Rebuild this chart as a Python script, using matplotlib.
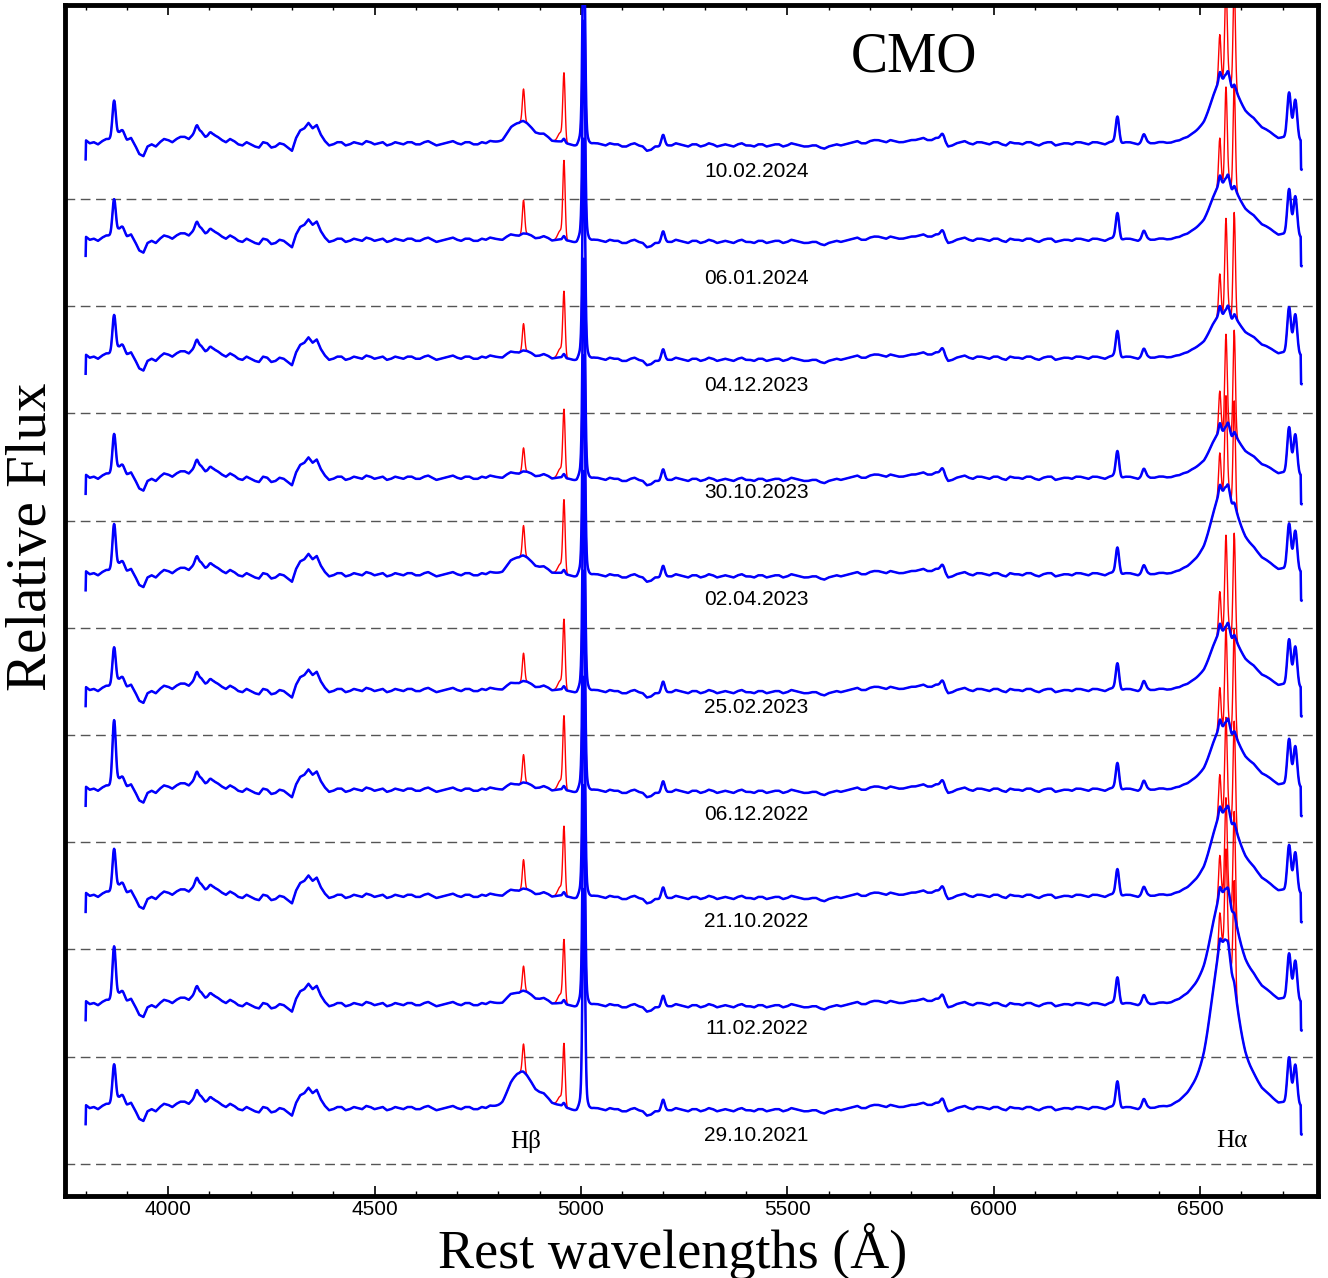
import numpy as np
import matplotlib.pyplot as plt
from matplotlib.ticker import MultipleLocator

# epochs, listed from the bottom spectrum to the top one
dates = ["29.10.2021", "11.02.2022", "21.10.2022", "06.12.2022", "25.02.2023",
         "02.04.2023", "30.10.2023", "04.12.2023", "06.01.2024", "10.02.2024"]

# continuum level of every spectrum above its own dashed line
base_level = [0.52, 0.49, 0.50, 0.49, 0.42, 0.50, 0.40, 0.52, 0.62, 0.52]

# continuum (units of 0.01): values at 3800, 3820, ... 6740 A
cont_start = 3800
cont_step = 20
cont_flux = [3, 1, 2, 4, 9, 3, -2, -12, -1, 1,
             3, 4, 6, 8, 11, 7, 6, 1, 2, -2,
             -1, -4, 0, -3, -1, -7, 12, 19, 17, 2,
             -1, 1, -1, 0, 2, -1, 1, -1, 0, 1,
             -1, 1, 0, -1, 1, 0, 1, -1, 1, 2,
             0, 1, 0, 1, 0, -1, 0, -1, -1, -2,
             0, -2, 0, -2, -1, -3, -1, -2, -7, -3,
             -1, -2, -1, -3, -1, -2, -1, -2, -2, -1,
             -2, -3, -1, -2, -1, -2, -1, -3, -2, -4,
             -3, -1, -1, 1, 0, 2, 3, 1, 2, 1,
             3, 4, 3, 5, 3, -2, 1, 0, 1, 0,
             1, -1, 1, 0, 1, -1, 0, 1, -1, 0,
             1, 0, 1, 0, 1, 1, 1, 0, 1, 0,
             1, 0, 1, 2, 3, 3, 3, 3, 3, 3,
             3, 3, 3, 3, 2, 3, 3, 2]
# values in between: 3810, 3830, ... 6730 A
cont_mid = [0, -1, 4, 5, 7, 5, -10, -3, -3, 4,
            1, 6, 4, 12, 6, 8, 3, 4, -1, 1,
            -3, 1, -4, 0, -4, 5, 14, 14, 8, -2,
            1, -2, 1, -1, 1, 0, -2, 1, -1, 1,
            -1, 2, -2, 0, 2, -1, 1, -1, 0, 1,
            -1, 2, -1, 1, -2, 1, -2, 0, -1, -3,
            -1, 0, -1, 0, -1, -3, 0, -3, -6, -3,
            -2, 0, -2, -1, -3, 0, -3, -1, -3, 0,
            -2, -1, -3, -1, -3, 0, -2, -3, -2, -5,
            -2, -2, 0, 2, 0, 3, 2, 3, 1, 2,
            3, 5, 3, 5, -3, 0, 2, -1, 1, -1,
            1, -2, 0, -1, 1, -2, 1, -2, 0, -1,
            1, -1, 1, -1, 2, 0, 1, -1, 2, 0,
            1, 0, 1, 2, 3, 2, 4, 3, 3, 4,
            2, 4, 2, 3, 1, 3, 3]
edge_first = -0.15   # first pixel of each spectrum
edge_last = -0.25    # drop at the red end
wave_end = 6746

# narrow lines present in every blue spectrum: centre, sigma, height
line_wave = [3889, 4069, 4102, 4959, 5199, 5876, 6300, 6364, 6716, 6731, 5007, 5007]
line_sig = [5, 4, 4, 3, 4, 4, 4, 4, 4.5, 4.5, 3.0, 8]
line_amp = [0.05, 0.05, 0.03, 0.04, 0.09, 0.05, 0.24, 0.07, 0.43, 0.37, 1.9, 0.15]

# residual spikes on top of broad H-alpha (blue)
resid_wave = [6548, 6556, 6568, 6577, 6584]
resid_amp = [0.07, -0.03, 0.05, -0.04, 0.03]

# per epoch values (bottom -> top)
neiii_amp = [0.36, 0.49, 0.39, 0.60, 0.35, 0.42, 0.36, 0.35, 0.33, 0.35]
hb_core = [0.24, 0.08, 0.04, 0.04, 0.05, 0.12, 0.03, 0.04, 0.03, 0.14]
hb_wing = [0.16, 0.06, 0.03, 0.03, 0.04, 0.08, 0.03, 0.03, 0.03, 0.10]
ha_core = [1.00, 0.62, 0.42, 0.32, 0.30, 0.45, 0.22, 0.20, 0.28, 0.34]
ha_wing = [0.56, 0.44, 0.38, 0.30, 0.28, 0.35, 0.24, 0.23, 0.28, 0.29]
ha_wing_c = [6565, 6570, 6575, 6580, 6580, 6575, 6580, 6580, 6580, 6580]

# narrow components drawn in red
n_hb = [0.26, 0.23, 0.27, 0.26, 0.26, 0.28, 0.22, 0.25, 0.31, 0.30]
n_4959 = [0.53, 0.54, 0.59, 0.63, 0.60, 0.63, 0.58, 0.56, 0.68, 0.59]
n_6548 = [0.25, 0.30, 0.30, 0.30, 0.30, 0.30, 0.30, 0.30, 0.35, 0.35]
n_6563 = [0.85, 0.85, 0.85, 0.88, 0.85, 0.85, 0.86, 0.85, 0.85, 0.85]
n_6583 = [0.95, 0.95, 0.95, 0.95, 0.95, 0.95, 0.95, 0.95, 0.95, 0.95]


def gauss(w, c, s, a):
    return a * np.exp(-0.5 * ((w - c) / s) ** 2)


# merge the two continuum lists into one 10 A sequence
n_mid = min(len(cont_mid), len(cont_flux) - 1)
knot_w, knot_f = [], []
for k in range(len(cont_flux)):
    knot_w.append(cont_start + cont_step * k)
    knot_f.append(cont_flux[k] / 100.0)
    if k < n_mid:
        knot_w.append(cont_start + cont_step * k + cont_step / 2)
        knot_f.append(cont_mid[k] / 100.0)

w = np.arange(cont_start, wave_end + 0.5, 1.0)
cont = np.interp(w, knot_w, knot_f)
cont[0] = edge_first
cont[-2:] = edge_last

common = np.zeros_like(w)
for c, s, a in zip(line_wave, line_sig, line_amp):
    common += gauss(w, c, s, a)
for c, a in zip(resid_wave, resid_amp):
    common += gauss(w, c, 2.5, a)

fig = plt.figure(figsize=(13.28, 12.78), dpi=100)
ax = fig.add_axes([65 / 1328, 82 / 1278, 1253 / 1328, 1191 / 1278])

for i in range(len(dates)):
    blue = cont + common + gauss(w, 3869, 4, neiii_amp[i])
    blue += gauss(w, 4848, 22, hb_core[i]) + gauss(w, 4885, 35, hb_wing[i])
    blue += gauss(w, 6557, 25, ha_core[i]) + gauss(w, ha_wing_c[i], 55, ha_wing[i])
    red = blue + gauss(w, 4861, 2.8, n_hb[i]) + gauss(w, 4959, 2.8, n_4959[i])
    red += gauss(w, 4950, 6, 0.08)
    red += gauss(w, 6548, 2.8, n_6548[i]) + gauss(w, 6563, 2.8, n_6563[i])
    red += gauss(w, 6583, 2.8, n_6583[i])
    off = i + base_level[i]
    ax.plot(w, red + off, color="red", lw=1.0, zorder=2)
    ax.plot(w, blue + off, color="blue", lw=1.8, zorder=3)
    ax.axhline(i, color="#555555", lw=1.0, dashes=(7, 4), zorder=1)
    ax.text(5425, i + 0.26, dates[i], ha="center", va="center",
            fontsize=15, family="Liberation Sans")

serif = "Liberation Serif"
ax.text(5808, 10.32, "CMO", ha="center", va="center", fontsize=40, family=serif)
ax.text(4866, 0.21, "H\u03b2", ha="center", va="center", fontsize=18, family=serif)
ax.text(6578, 0.21, "H\u03b1", ha="center", va="center", fontsize=18, family=serif)

ax.set_xlim(3750, 6786)
ax.set_ylim(-0.30, 10.81)
ax.set_yticks([])
ax.xaxis.set_major_locator(MultipleLocator(500))
ax.xaxis.set_minor_locator(MultipleLocator(100))
ax.tick_params(axis="x", which="both", direction="in", top=True, bottom=True)
ax.tick_params(axis="x", which="major", length=7, width=1.2, pad=3, labelsize=15)
ax.tick_params(axis="x", which="minor", length=3.5, width=1.0)
for lab in ax.get_xticklabels():
    lab.set_family("Liberation Sans")
for sp in ax.spines.values():
    sp.set_linewidth(3.5)

fig.text(32 / 1328, 1 - 537 / 1278, "Relative Flux", rotation=90,
         ha="center", va="center", fontsize=41, family=serif)
fig.text(673 / 1328, 1 - 1251 / 1278, "Rest wavelengths (\u00c5)",
         ha="center", va="center", fontsize=39, family=serif)

fig.savefig("out.png", dpi=100)
